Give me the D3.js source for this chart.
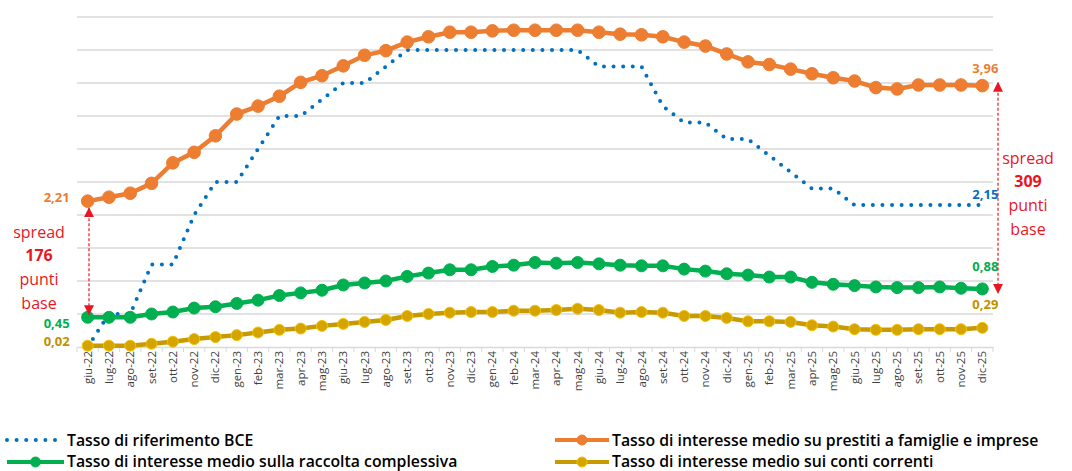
<!DOCTYPE html>
<html>
<head>
<meta charset="utf-8">
<script src="https://cdn.jsdelivr.net/npm/d3@7"></script>
<style>
  body { margin: 0; background: #fff; }
  svg { display: block; font-family: "Open Sans", sans-serif; }
</style>
</head>
<body>
<div id="chart"></div>
<script>
// mesi da giu-22 a dic-25
const months = ["giu-22","lug-22","ago-22","set-22","ott-22","nov-22","dic-22",
  "gen-23","feb-23","mar-23","apr-23","mag-23","giu-23","lug-23","ago-23","set-23","ott-23","nov-23","dic-23",
  "gen-24","feb-24","mar-24","apr-24","mag-24","giu-24","lug-24","ago-24","set-24","ott-24","nov-24","dic-24",
  "gen-25","feb-25","mar-25","apr-25","mag-25","giu-25","lug-25","ago-25","set-25","ott-25","nov-25","dic-25"];

const tassoBce = [0,0.5,0.5,1.25,1.25,2,2.5,
  2.5,3,3.5,3.5,3.75,4,4,4.25,4.5,4.5,4.5,4.5,
  4.5,4.5,4.5,4.5,4.5,4.25,4.25,4.25,3.65,3.4,3.4,3.15,
  3.15,2.9,2.65,2.4,2.4,2.15,2.15,2.15,2.15,2.15,2.15,2.15];

const prestiti = [2.21,2.27,2.33,2.48,2.79,2.95,3.2,
  3.53,3.65,3.8,4.01,4.11,4.26,4.42,4.49,4.62,4.7,4.77,4.77,
  4.79,4.8,4.8,4.8,4.8,4.77,4.74,4.73,4.7,4.62,4.56,4.44,
  4.32,4.28,4.21,4.14,4.08,4.03,3.93,3.91,3.97,3.97,3.97,3.96];

const raccolta = [0.45,0.45,0.45,0.5,0.53,0.59,0.61,
  0.66,0.71,0.78,0.82,0.86,0.94,0.97,1.0,1.07,1.12,1.17,1.17,
  1.22,1.24,1.28,1.27,1.28,1.26,1.24,1.23,1.23,1.18,1.15,1.11,
  1.09,1.06,1.06,0.98,0.95,0.93,0.91,0.9,0.9,0.91,0.89,0.88];

const contiCorrenti = [0.02,0.02,0.02,0.05,0.08,0.12,0.15,
  0.18,0.22,0.26,0.28,0.32,0.35,0.38,0.41,0.47,0.5,0.52,0.53,
  0.53,0.55,0.55,0.56,0.58,0.56,0.52,0.53,0.52,0.47,0.47,0.44,
  0.39,0.39,0.38,0.33,0.31,0.27,0.26,0.26,0.27,0.27,0.27,0.29];

const yTicks = [0.5,1,1.5,2,2.5,3,3.5,4,4.5,5];

// spread in punti base (inizio, fine)
const spreadPunti = [176, 309];

const legendLabels = [
  "Tasso di riferimento BCE",
  "Tasso di interesse medio su prestiti a famiglie e imprese",
  "Tasso di interesse medio sulla raccolta complessiva",
  "Tasso di interesse medio sui conti correnti"
];

const width = 1072, height = 471;
const svg = d3.select("#chart").append("svg")
  .attr("width", width)
  .attr("height", height);

const x = d3.scaleBand().domain(months).range([77, 993]).padding(0);
const xp = m => x(m) + x.bandwidth() / 2;
const y = d3.scaleLinear().domain([0, 5]).range([347, 17]);

const red = "#e8161f";
const cBlue = "#0070c0", cOrange = "#ed7d31", cGreen = "#00b050", cGold = "#c79a00";

// griglia
svg.append("g")
  .selectAll("line")
  .data(yTicks)
  .enter()
  .append("line")
  .attr("x1", 77).attr("x2", 993)
  .attr("y1", d => y(d)).attr("y2", d => y(d))
  .attr("stroke", "#d9d9d9")
  .attr("stroke-width", 1.3);

// asse x
const xAxis = svg.append("g")
  .attr("transform", `translate(0,${y(0)})`)
  .call(d3.axisBottom(x).tickSize(0).tickPadding(4));
xAxis.select(".domain").attr("stroke", "#d9d9d9").attr("stroke-width", 1.3);
xAxis.selectAll("text")
  .attr("transform", "rotate(-90)")
  .attr("x", -4).attr("y", 0).attr("dy", "0.35em")
  .style("text-anchor", "end")
  .style("font-family", "Open Sans, sans-serif")
  .style("font-size", "11.5px")
  .attr("fill", "#404040");
svg.append("g")
  .selectAll("line")
  .data(months.concat(["__end"]))
  .enter()
  .append("line")
  .attr("x1", (d, i) => 77 + i * x.bandwidth())
  .attr("x2", (d, i) => 77 + i * x.bandwidth())
  .attr("y1", y(0)).attr("y2", y(0) + 5)
  .attr("stroke", "#d9d9d9");

const line = d3.line().x((d, i) => xp(months[i])).y(d => y(d));

// BCE tratteggiata a punti
svg.append("path")
  .datum(tassoBce)
  .attr("d", line)
  .attr("fill", "none")
  .attr("stroke", cBlue)
  .attr("stroke-width", 4)
  .attr("stroke-linecap", "round")
  .attr("stroke-dasharray", "0 9.6");

function series(values, color, r, mFill, mStroke) {
  svg.append("path")
    .datum(values)
    .attr("d", line)
    .attr("fill", "none")
    .attr("stroke", color)
    .attr("stroke-width", 4.5);
  svg.append("g")
    .selectAll("circle")
    .data(values)
    .enter()
    .append("circle")
    .attr("cx", (d, i) => xp(months[i]))
    .attr("cy", d => y(d))
    .attr("r", r)
    .attr("fill", mFill)
    .attr("stroke", mStroke)
    .attr("stroke-width", 1);
}
series(contiCorrenti, cGold, 5.5, "#d6a400", "#f2c200");
series(raccolta, cGreen, 6, cGreen, cGreen);
series(prestiti, cOrange, 6.3, cOrange, cOrange);

// etichette valori
const first = months[0], last = months[months.length - 1];
const n = months.length - 1;
const valLabel = (tx, ty, txt, color, anchor) =>
  svg.append("text")
    .attr("x", tx).attr("y", ty).attr("dy", "0.35em")
    .attr("text-anchor", anchor)
    .attr("fill", color)
    .style("font-size", "13px")
    .style("font-weight", "700")
    .text(txt);

const fmt = v => v.toFixed(2).replace(".", ",");
valLabel(xp(first) - 18, y(prestiti[0]) - 4, fmt(prestiti[0]), cOrange, "end");
valLabel(xp(first) - 18, y(raccolta[0]) + 6, fmt(raccolta[0]), cGreen, "end");
valLabel(xp(first) - 18, y(contiCorrenti[0]) - 4, fmt(contiCorrenti[0]), "#bf9000", "end");
valLabel(xp(last) + 16, y(prestiti[n]) - 17, fmt(prestiti[n]), cOrange, "end");
valLabel(xp(last) + 16, y(tassoBce[n]) - 11, fmt(tassoBce[n]), cBlue, "end");
valLabel(xp(last) + 16, y(raccolta[n]) - 22, fmt(raccolta[n]), cGreen, "end");
valLabel(xp(last) + 16, y(contiCorrenti[n]) - 23, fmt(contiCorrenti[n]), "#bf9000", "end");

// frecce spread
const defs = svg.append("defs");
defs.append("marker")
  .attr("id", "tri")
  .attr("viewBox", "0 0 10 10")
  .attr("refX", 9).attr("refY", 5)
  .attr("markerWidth", 10).attr("markerHeight", 10)
  .attr("markerUnits", "userSpaceOnUse")
  .attr("orient", "auto-start-reverse")
  .append("path")
  .attr("d", "M0,0 L10,5 L0,10 Z")
  .attr("fill", red);

function spreadArrow(ax, top, bottom) {
  svg.append("line")
    .attr("x1", ax).attr("x2", ax)
    .attr("y1", top).attr("y2", bottom)
    .attr("stroke", red)
    .attr("stroke-width", 1.2)
    .attr("stroke-dasharray", "3 2")
    .attr("marker-start", "url(#tri)")
    .attr("marker-end", "url(#tri)");
}
spreadArrow(89, y(prestiti[0]) + 7, y(raccolta[0]) - 3);
spreadArrow(998, y(prestiti[n]) - 3, y(raccolta[n]) + 4);

function spreadText(cx, top, bp) {
  const lines = ["spread", String(bp), "punti", "base"];
  svg.append("g")
    .selectAll("text")
    .data(lines)
    .enter()
    .append("text")
    .attr("x", cx)
    .attr("y", (d, i) => top + i * 23.7)
    .attr("dy", "0.35em")
    .attr("text-anchor", "middle")
    .attr("fill", red)
    .style("font-size", "16px")
    .style("font-weight", (d, i) => i === 1 ? "700" : "400")
    .text(d => d);
}
spreadText(39, 232, spreadPunti[0]);
spreadText(1028, 158, spreadPunti[1]);

// legenda
const leg = svg.append("g").style("font-size", "15.8px").style("font-weight", "600");
leg.append("line")
  .attr("x1", 7).attr("x2", 62).attr("y1", 440).attr("y2", 440)
  .attr("stroke", cBlue).attr("stroke-width", 4)
  .attr("stroke-linecap", "round").attr("stroke-dasharray", "0 9.6");
const legItems = [
  { x0: 7, x1: 64, yy: 462, color: cGreen, fill: cGreen, stroke: cGreen },
  { x0: 555, x1: 609, yy: 440, color: cOrange, fill: cOrange, stroke: cOrange },
  { x0: 555, x1: 609, yy: 462, color: cGold, fill: "#d6a400", stroke: "#f2c200" }
];
legItems.forEach(d => {
  leg.append("line")
    .attr("x1", d.x0).attr("x2", d.x1).attr("y1", d.yy).attr("y2", d.yy)
    .attr("stroke", d.color).attr("stroke-width", 4);
  leg.append("circle")
    .attr("cx", (d.x0 + d.x1) / 2).attr("cy", d.yy).attr("r", 5)
    .attr("fill", d.fill).attr("stroke", d.stroke);
});
const legText = [[67, 440], [612, 440], [67, 461], [612, 461]];
legendLabels.forEach((t, i) => {
  leg.append("text")
    .attr("x", legText[i][0]).attr("y", legText[i][1]).attr("dy", "0.35em")
    .attr("fill", "#000")
    .text(t);
});
</script>
</body>
</html>
